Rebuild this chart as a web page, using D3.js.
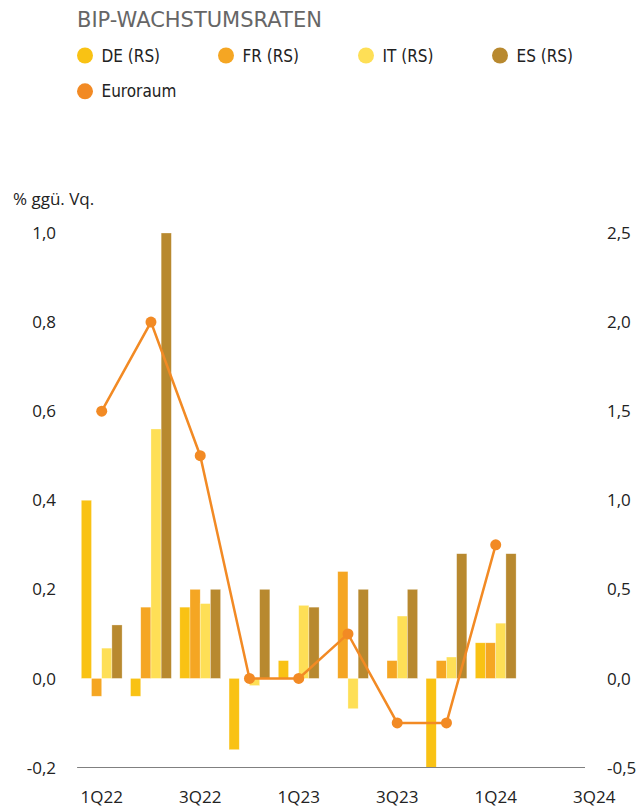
<!DOCTYPE html>
<html>
<head>
<meta charset="utf-8">
<script src="https://cdn.jsdelivr.net/npm/d3@7"></script>
<style>
  body { margin: 0; background: #fff; }
  text { font-family: "Open Sans", sans-serif; fill: #222; }
</style>
</head>
<body>
<div id="chart"></div>
<script>
// quarters on the x axis (last two are empty)
const quarters = ["1Q22", "2Q22", "3Q22", "4Q22", "1Q23", "2Q23", "3Q23", "4Q23", "1Q24", "2Q24", "3Q24"];
const tickQuarters = ["1Q22", "3Q22", "1Q23", "3Q23", "1Q24", "3Q24"];

// bars, right scale
const deValues = [1.0, -0.1, 0.4, -0.4, 0.1, 0.0, 0.0, -0.5, 0.2];
const frValues = [-0.1, 0.4, 0.5, 0.0, 0.0, 0.6, 0.1, 0.1, 0.2];
const itValues = [0.17, 1.4, 0.42, -0.04, 0.41, -0.17, 0.35, 0.12, 0.31];
const esValues = [0.3, 2.5, 0.5, 0.5, 0.4, 0.5, 0.5, 0.7, 0.7];
// line, left scale
const euroValues = [0.6, 0.8, 0.5, 0.0, 0.0, 0.1, -0.1, -0.1, 0.3];

const leftTicks = [-0.2, 0.0, 0.2, 0.4, 0.6, 0.8, 1.0];
const rightTicks = [-0.5, 0.0, 0.5, 1.0, 1.5, 2.0, 2.5];

const series = [
  { key: "DE (RS)", values: deValues, color: "#F9C214" },
  { key: "FR (RS)", values: frValues, color: "#F5A623" },
  { key: "IT (RS)", values: itValues, color: "#FEDF56" },
  { key: "ES (RS)", values: esValues, color: "#B8892F" }
];
const euroColor = "#F28A24";

const width = 641, height = 810;

const svg = d3.select("#chart").append("svg")
  .attr("width", width)
  .attr("height", height);

// scales
let x = d3.scaleBand()
  .domain(quarters)
  .range([77.1, 77.1 + 49.25 * quarters.length]);

let x1 = d3.scaleBand()
  .domain(series.map(s => s.key))
  .range([4.2, 45.0]);

let yLeft = d3.scaleLinear().domain([-0.2, 1.0]).range([767.5, 233]);
let yRight = d3.scaleLinear().domain([-0.5, 2.5]).range([767.5, 233]);

const fmt = v => d3.format(".1f")(v).replace(".", ",").replace("−", "-");

// title
svg.append("text")
  .attr("x", 77).attr("y", 27)
  .style("font-family", "'DejaVu Sans', sans-serif")
  .style("font-size", "21px")
  .style("fill", "#666")
  .text("BIP-WACHSTUMSRATEN");

// legend
const legendItems = [
  { key: "DE (RS)", color: series[0].color, x: 85, y: 55.5 },
  { key: "FR (RS)", color: series[1].color, x: 226, y: 55.5 },
  { key: "IT (RS)", color: series[2].color, x: 366, y: 55.5 },
  { key: "ES (RS)", color: series[3].color, x: 500, y: 55.5 },
  { key: "Euroraum", color: euroColor, x: 85, y: 91.3 }
];
const lg = svg.append("g").selectAll("g").data(legendItems).enter().append("g")
  .attr("transform", d => `translate(${d.x},${d.y})`);
lg.append("circle").attr("r", 8).attr("fill", d => d.color);
lg.append("text")
  .attr("x", 16.5).attr("dy", "0.36em")
  .style("font-family", "'DejaVu Sans Condensed', 'DejaVu Sans', sans-serif")
  .style("font-size", "17px")
  .text(d => d.key);

// axis unit
svg.append("text")
  .attr("x", 13).attr("y", 205)
  .style("font-size", "17px")
  .text("% ggü. Vq.");

// left axis labels
svg.append("g").selectAll("text").data(leftTicks).enter().append("text")
  .attr("x", 56)
  .attr("y", d => yLeft(d))
  .attr("dy", "0.36em")
  .attr("text-anchor", "end")
  .style("font-size", "17px")
  .text(fmt);

// right axis labels
svg.append("g").selectAll("text").data(rightTicks).enter().append("text")
  .attr("x", 607)
  .attr("y", d => yRight(d))
  .attr("dy", "0.36em")
  .style("font-size", "17px")
  .text(fmt);

// bars
series.forEach(s => {
  svg.append("g").selectAll("rect")
    .data(s.values)
    .enter()
    .append("rect")
    .attr("x", (d, i) => x(quarters[i]) + x1(s.key))
    .attr("width", x1.bandwidth())
    .attr("y", d => yRight(Math.max(0, d)))
    .attr("height", d => Math.abs(yRight(d) - yRight(0)))
    .attr("fill", s.color)
    .attr("stroke", "#fff")
    .attr("stroke-opacity", 0.5)
    .attr("stroke-width", 0.6);
});

// bottom axis line
svg.append("line")
  .attr("x1", x.range()[0]).attr("x2", 585)
  .attr("y1", yLeft(-0.2)).attr("y2", yLeft(-0.2))
  .attr("stroke", "#808080")
  .attr("stroke-width", 1.2);

// x labels
svg.append("g").selectAll("text").data(tickQuarters).enter().append("text")
  .attr("x", d => x(d) + x.bandwidth() / 2)
  .attr("y", 803)
  .attr("text-anchor", "middle")
  .style("font-size", "17px")
  .text(d => d);

// Euroraum line
const line = d3.line()
  .x((d, i) => x(quarters[i]) + x.bandwidth() / 2)
  .y(d => yLeft(d));

svg.append("path")
  .datum(euroValues)
  .attr("d", line)
  .attr("fill", "none")
  .attr("stroke", euroColor)
  .attr("stroke-width", 2.5);

svg.append("g").selectAll("circle")
  .data(euroValues)
  .enter()
  .append("circle")
  .attr("cx", (d, i) => x(quarters[i]) + x.bandwidth() / 2)
  .attr("cy", d => yLeft(d))
  .attr("r", 5.5)
  .attr("fill", euroColor);
</script>
</body>
</html>
